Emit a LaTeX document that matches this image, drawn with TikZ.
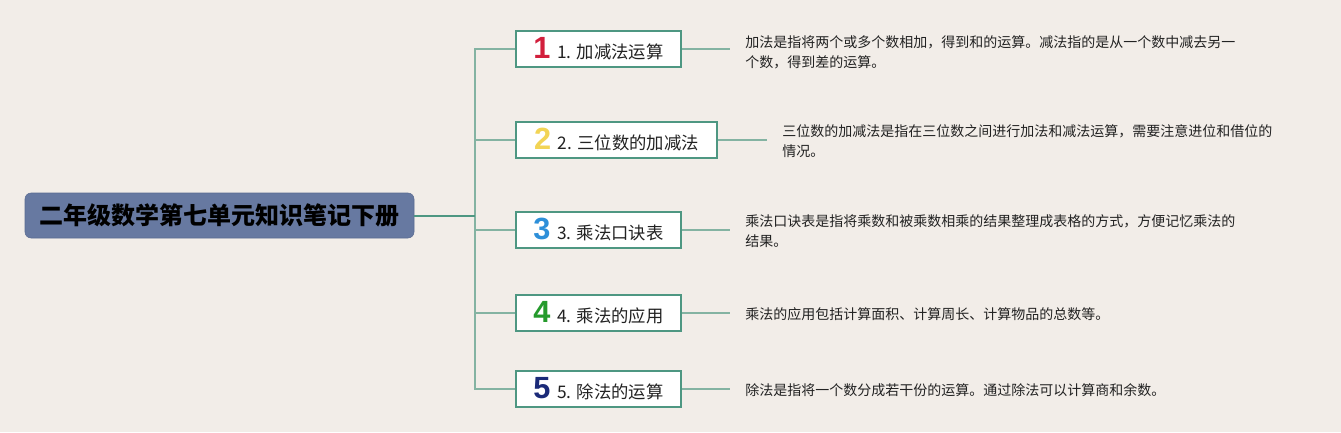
\documentclass[tikz,border=0pt]{standalone}
\usepackage{fontspec}
\setmainfont{Noto Sans CJK SC}
\newfontfamily\iconfont{Liberation Sans}
\usepackage{xcolor}
\usepackage{tikz}
\usetikzlibrary{positioning}
\definecolor{mmbg}    {HTML}{F2EDE8}
\definecolor{mmroot}  {HTML}{6779A1}
\definecolor{mmrootdk}{HTML}{5A6B91}
\definecolor{mmline}  {HTML}{4E9782}
\definecolor{mmtwig}  {HTML}{84B3A2}
\definecolor{mmtext}  {HTML}{222222}
\definecolor{mmred}   {HTML}{D21F3C}
\definecolor{mmyellow}{HTML}{F2D455}
\definecolor{mmblue}  {HTML}{2D8FD9}
\definecolor{mmgreen} {HTML}{259A2C}
\definecolor{mmnavy}  {HTML}{1B2A78}
\newcommand{\numicon}[2]{{\iconfont\bfseries\fontsize{23}{23}\selectfont\textcolor{#1}{#2}}}

\begin{document}
\begin{tikzpicture}[
  x=0.75pt, y=-0.75pt,
  every node/.style={font=\fontsize{10.5}{15}\selectfont, text=mmtext},
  root/.style={rectangle, rounded corners=4.5pt, draw=mmrootdk, fill=mmroot,
               minimum width=291.75pt, minimum height=33.75pt, text=black,
               font=\fontsize{18}{18}\selectfont\bfseries},
  topic/.style={rectangle, draw=mmline, line width=1.4pt, fill=white,
                minimum width=123.75pt, minimum height=27pt, anchor=west,
                font=\fontsize{13}{13}\selectfont},
  desc/.style={anchor=west, align=left, inner sep=0pt},
  trunk/.style={draw=mmline, line width=1.5pt},
  twig/.style={draw=mmtwig, line width=1.2pt},
  leaf/.style={draw=mmtwig, line width=1.2pt, shorten >=11pt},
]
\fill[mmbg] (0,0) rectangle (1341,432);
\useasboundingbox (0,0) rectangle (1341,432);

\node[root] (root) at (219.5,215.5) {二年级数学第七单元知识笔记下册};

\node[topic] (t1) at (515,49)  {\numicon{mmred}{1}\, 1. 加减法运算};
\node[topic, minimum width=150.75pt] (t2) at (515,140) {\numicon{mmyellow}{2}\, 2. 三位数的加减法};
\node[topic] (t3) at (515,230) {\numicon{mmblue}{3}\, 3. 乘法口诀表};
\node[topic] (t4) at (515,313) {\numicon{mmgreen}{4}\, 4. 乘法的应用};
\node[topic] (t5) at (515,389) {\numicon{mmnavy}{5}\, 5. 除法的运算};

\node[desc] (d1) at (745,52)  {加法是指将两个或多个数相加，得到和的运算。减法指的是从一个数中减去另一\\个数，得到差的运算。};
\node[desc] (d2) at (782,141.5) {三位数的加减法是指在三位数之间进行加法和减法运算，需要注意进位和借位的\\情况。};
\node[desc] (d3) at (745,231.5) {乘法口诀表是指将乘数和被乘数相乘的结果整理成表格的方式，方便记忆乘法的\\结果。};
\node[desc] (d4) at (745,314) {乘法的应用包括计算面积、计算周长、计算物品的总数等。};
\node[desc] (d5) at (745,390) {除法是指将一个数分成若干份的运算。通过除法可以计算商和余数。};

% trunk and branches
\coordinate (fork) at (475,215.5);
\foreach \i in {1,...,5}
  \draw[twig] (fork) |- (t\i.west);
\draw[trunk] (root.east) -- (fork);

% topic to description
\foreach \i in {1,...,5}
  \draw[leaf] (t\i.east) -- (t\i.east -| d\i.west);
\end{tikzpicture}
\end{document}
